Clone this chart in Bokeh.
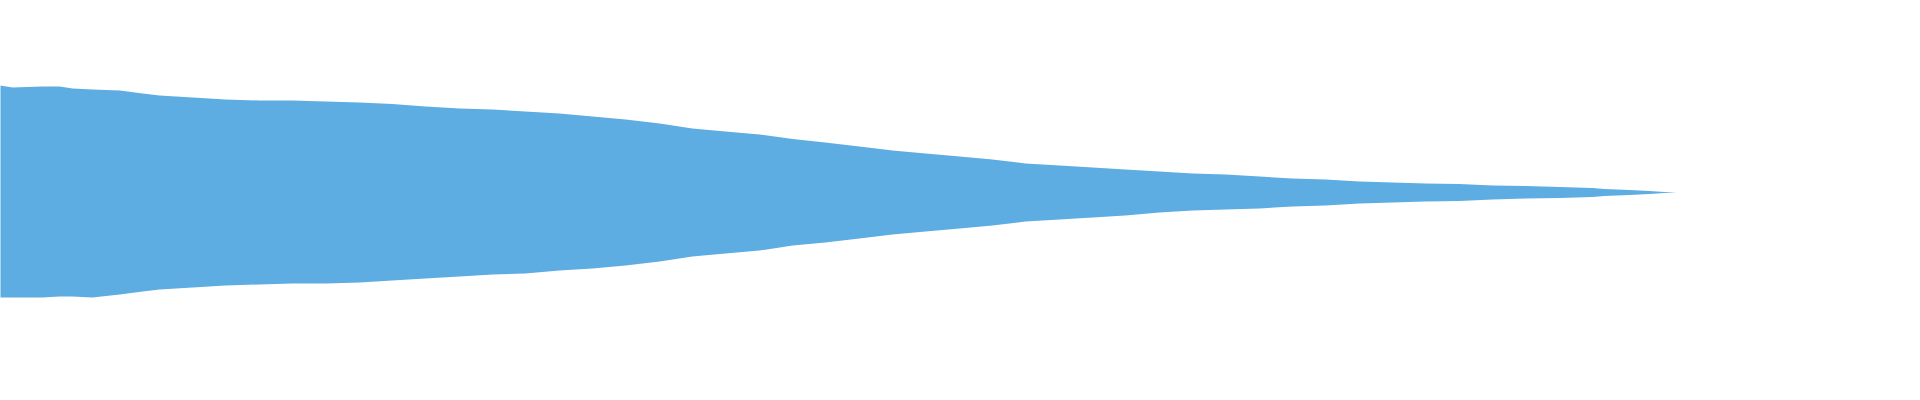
from bokeh.plotting import figure
from bokeh.models import Range1d
from bokeh.embed import file_html
from bokeh.resources import INLINE

# Waveform envelope: time in seconds, amplitude (-1..1)
time_s = [0.000, 0.004, 0.008, 0.015, 0.042, 0.104, 0.140, 0.167, 0.208, 0.265,
          0.313, 0.348, 0.417, 0.485, 0.556, 0.625, 0.694, 0.765, 0.833, 0.902,
          0.973, 1.042, 1.110, 1.181, 1.250, 1.319, 1.390, 1.458, 1.527, 1.598,
          1.667, 1.735, 1.806, 1.875, 1.944, 2.015, 2.083, 2.152, 2.223, 2.292,
          2.360, 2.431, 2.500, 2.569, 2.640, 2.708, 2.777, 2.848, 2.917, 2.985,
          3.056, 3.125, 3.194, 3.265, 3.333, 3.358, 3.410, 3.452, 3.483, 3.508]

upper = [0.600, 0.610, 0.585, 0.535, 0.525, 0.530, 0.530, 0.520, 0.515, 0.510,
         0.495, 0.485, 0.475, 0.465, 0.460, 0.460, 0.455, 0.450, 0.443, 0.430,
         0.420, 0.415, 0.405, 0.395, 0.380, 0.365, 0.345, 0.320, 0.305, 0.290,
         0.268, 0.250, 0.230, 0.210, 0.195, 0.180, 0.165, 0.145, 0.135, 0.125,
         0.115, 0.105, 0.095, 0.090, 0.080, 0.070, 0.065, 0.055, 0.050, 0.045,
         0.042, 0.035, 0.032, 0.028, 0.022, 0.018, 0.012, 0.008, 0.003, 0.000]

lower = [-0.600, -0.610, -0.585, -0.525, -0.525, -0.525, -0.520, -0.520, -0.525, -0.510,
         -0.495, -0.485, -0.475, -0.465, -0.460, -0.455, -0.455, -0.450, -0.440, -0.430,
         -0.420, -0.410, -0.405, -0.390, -0.380, -0.365, -0.345, -0.320, -0.305, -0.290,
         -0.265, -0.250, -0.230, -0.210, -0.195, -0.180, -0.165, -0.145, -0.135, -0.125,
         -0.115, -0.100, -0.090, -0.085, -0.080, -0.070, -0.065, -0.055, -0.050, -0.045,
         -0.042, -0.035, -0.030, -0.028, -0.022, -0.018, -0.012, -0.008, -0.003, 0.000]

WAVE_COLOR = "#5DADE2"

p = figure(width=1904, height=384, output_backend="svg", toolbar_location=None,
           x_range=Range1d(8 / 480, 1912 / 480), y_range=Range1d(-0.96, 0.96),
           min_border=0)
p.varea(x=time_s, y1=lower, y2=upper, fill_color=WAVE_COLOR, fill_alpha=1.0)

p.xaxis.visible = False
p.yaxis.visible = False
p.xgrid.visible = False
p.ygrid.visible = False
p.outline_line_color = None
p.background_fill_color = "white"
p.border_fill_color = "white"

open("out.html", "w").write(file_html(p, INLINE))
